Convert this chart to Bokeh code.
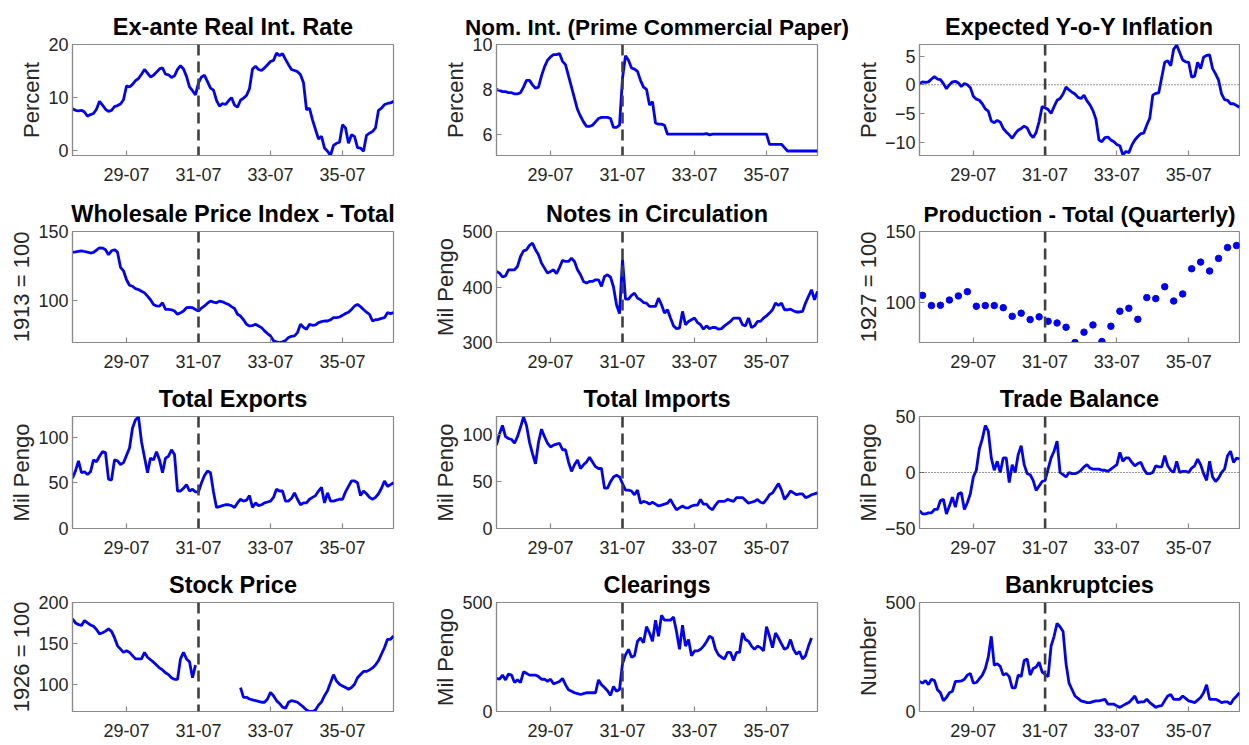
import numpy as np
import pandas as pd
from bokeh.plotting import figure
from bokeh.layouts import gridplot
from bokeh.models import Range1d, FixedTicker, Span
from bokeh.embed import file_html
from bokeh.resources import INLINE

nan = np.nan

# ---------------- data ----------------
months = pd.period_range("1928-01", "1936-12", freq="M")
tick_labels = ["29-07", "31-07", "33-07", "35-07"]
break_label = "31-07"

real_rate = [7.9, 7.6, 7.5, 7.6, 7.3, 6.5,
             6.8, 7.0, 7.8, 9.3, 8.6, 7.8,
             7.4, 7.6, 8.3, 8.5, 8.8, 9.6,
             12.2, 12.0, 12.5, 13.2, 13.6, 14.4,
             15.3, 14.6, 13.9, 14.2, 14.8, 15.4,
             15.6, 14.4, 14.3, 13.8, 14.1, 15.3,
             16.0, 15.4, 14.0, 12.0, 11.3, 10.5,
             12.8, 13.9, 14.2, 13.0, 11.8, 11.4,
             9.5, 8.4, 8.9, 8.7, 9.4, 10.0,
             8.6, 8.2, 9.5, 9.9, 10.4, 11.7,
             15.4, 15.9, 15.3, 15.1, 15.6, 16.2,
             16.8, 17.0, 18.4, 17.9, 18.3, 17.2,
             16.2, 15.3, 15.1, 14.9, 14.3, 12.8,
             7.7, 8.0, 5.8, 4.0, 2.2, 2.7,
             0.5, -0.1, -0.9, 1.0, 1.4, 1.6,
             4.9, 4.3, 1.4, 3.0, 2.7, 0.6,
             0.5, -0.1, 2.9, 3.3, 3.6, 4.3,
             7.6, 8.0, 8.7, 8.9, 9.0, 9.3]

nominal_rate = [8.0, 7.95, 7.9, 7.9, 7.85, 7.85,
                7.8, 7.8, 7.85, 8.1, 8.4, 8.4,
                8.2, 8.05, 8.1, 8.6, 9.0, 9.3,
                9.45, 9.55, 9.55, 9.6, 9.25, 9.1,
                8.6, 8.1, 7.6, 7.1, 6.8, 6.55,
                6.35, 6.35, 6.4, 6.55, 6.7, 6.75,
                6.75, 6.75, 6.7, 6.3, 6.3, 6.4,
                8.5, 9.5, 9.3, 8.95, 8.9, 8.8,
                8.4, 8.1, 8.0, 7.3, 7.45, 6.5,
                6.45, 6.45, 6.4, 6.0, 6.0, 6.0,
                6.0, 6.0, 6.0, 6.0, 6.0, 6.0,
                6.0, 6.0, 6.0, 6.0, 6.03, 5.97,
                6.0, 6.0, 6.0, 6.0, 6.0, 6.0,
                6.0, 6.0, 6.0, 6.0, 6.0, 6.0,
                6.0, 6.0, 6.0, 6.0, 6.0, 6.0,
                6.0, 5.55, 5.55, 5.55, 5.55, 5.55,
                5.4, 5.25, 5.25, 5.25, 5.25, 5.25,
                5.25, 5.25, 5.25, 5.25, 5.25, 5.25]

exp_inflation = [0.2, 0.5, 0.4, 0.5, 1.0, 1.4,
                 1.0, 0.9, 0.2, -0.7, 0.0, 0.5,
                 0.6, 0.3, -0.3, 0.2, 0.0, -0.5,
                 -2.0, -2.5, -2.7, -3.3, -4.2, -4.6,
                 -6.3, -6.6, -6.2, -6.5, -7.6, -8.2,
                 -8.7, -9.3, -8.5, -7.9, -7.6, -7.2,
                 -7.5, -8.6, -9.2, -8.3, -6.4, -3.8,
                 -4.0, -4.3, -5.0, -3.8, -2.7, -2.4,
                 -1.6, -0.4, -0.9, -1.3, -1.6, -2.2,
                 -2.4, -1.8, -2.8, -3.5, -4.5, -6.0,
                 -9.6, -9.9, -9.2, -9.1, -9.6, -9.9,
                 -10.4, -10.6, -12.2, -11.6, -11.8, -10.5,
                 -9.6, -9.0, -8.5, -8.4, -7.0, -5.8,
                 -1.8, -1.5, -1.4, 1.3, 3.9, 4.2,
                 3.3, 6.2, 6.9, 5.6, 4.3, 4.0,
                 3.9, 1.3, 1.5, 3.9, 2.8, 4.8,
                 5.1, 5.2, 2.8, 1.9, 0.8, -1.6,
                 -2.6, -2.7, -3.3, -3.3, -3.6, -3.9]

wholesale_prices = [134.9, 135.2, 135.6, 136.0, 135.5, 135.0,
                    134.4, 134.8, 136.5, 138.2, 138.0, 136.8,
                    133.2, 136.0, 136.8, 135.0, 124.0, 121.5,
                    115.0, 111.0, 110.3, 108.5, 107.9, 106.7,
                    105.5, 103.1, 100.5, 97.1, 96.0, 95.9,
                    98.3, 93.5, 93.5, 93.2, 92.3, 89.9,
                    91.0, 92.3, 94.7, 94.9, 94.7, 93.5,
                    92.3, 94.5, 96.0, 98.0, 99.5, 98.8,
                    98.3, 99.5, 99.0, 98.0, 97.1, 95.5,
                    94.2, 90.0, 88.7, 86.0, 82.7, 81.5,
                    81.8, 82.7, 81.5, 80.3, 77.9, 76.0,
                    74.3, 70.7, 70.0, 69.5, 70.0, 71.0,
                    73.1, 74.0, 74.3, 76.7, 82.7, 80.5,
                    79.1, 82.7, 82.0, 82.3, 83.9, 84.6,
                    85.1, 85.1, 86.0, 87.5, 87.5, 88.0,
                    89.2, 90.5, 91.5, 93.5, 95.9, 97.1,
                    95.5, 93.5, 91.5, 89.9, 85.1, 86.0,
                    86.3, 87.0, 87.5, 91.1, 90.5, 91.1]

notes_circulation = [428, 425, 418, 420, 431, 431,
                     431, 437, 455, 465, 467, 475,
                     479, 467, 458, 443, 434, 425,
                     428, 431, 424, 435, 448, 446,
                     446, 452, 446, 431, 422, 410,
                     407, 410, 410, 413, 413, 401,
                     419, 422, 418, 400, 368, 352,
                     450, 378, 378, 385, 389, 380,
                     377, 372, 371, 365, 365, 365,
                     380, 368, 353, 359, 344, 330,
                     325, 326, 356, 332, 338, 341,
                     344, 336, 332, 324, 330, 325,
                     327, 327, 324, 325, 330, 334,
                     338, 344, 344, 344, 332, 330,
                     344, 327, 330, 338, 338, 344,
                     348, 353, 359, 371, 367, 371,
                     359, 359, 360, 357, 355, 355,
                     356, 371, 383, 395, 377, 392]

production_quarterly = [104.9, 97.7, 97.9, 101.6, 104.5, 107.5,
                        97.2, 97.7, 97.7, 96.2, 90.1, 92.3,
                        87.8, 89.7, 86.6, 85.4, 82.4, 71.6,
                        78.9, 84.0, 72.3, 83.1, 93.7, 95.8,
                        88.0, 103.3, 102.6, 111.0, 100.9, 105.9,
                        123.7, 128.4, 122.1, 131.0, 138.7, 140.1]

exports = [55, 63, 74, 61, 62, 59,
           62, 75, 73, 79, 84, 83,
           54, 53, 75, 74, 70, 72,
           80, 88, 110, 119, 122, 95,
           78, 61, 77, 75, 84, 75,
           61, 77, 79, 86, 81, 41,
           41, 44, 48, 41, 43, 40,
           40, 50, 58, 63, 61, 40,
           23, 24, 25, 26, 26, 25,
           23, 28, 32, 30, 31, 36,
           23, 28, 25, 26, 28, 29,
           30, 34, 43, 41, 41, 30,
           30, 33, 39, 32, 26, 28,
           28, 32, 34, 36, 41, 45,
           28, 39, 30, 30, 31, 32,
           32, 40, 46, 52, 52, 50,
           36, 41, 38, 34, 32, 34,
           38, 44, 52, 46, 48, 50]

imports = [89, 101, 110, 98, 96, 95,
           91, 98, 108, 119, 110, 92,
           80, 69, 92, 106, 98, 91,
           87, 89, 90, 91, 84, 84,
           71, 61, 68, 73, 64, 68,
           71, 76, 71, 66, 64, 64,
           43, 43, 50, 55, 57, 55,
           48, 41, 41, 40, 36, 41,
           27, 29, 28, 26, 28, 26,
           24, 25, 26, 27, 31, 25,
           20, 22, 24, 22, 22, 24,
           25, 25, 31, 26, 26, 22,
           20, 25, 29, 29, 29, 31,
           30, 29, 33, 33, 33, 30,
           27, 28, 29, 31, 28, 27,
           31, 36, 38, 43, 48, 41,
           31, 35, 40, 38, 36, 37,
           37, 33, 34, 36, 37, 38]

trade_balance = [-34, -37, -37, -36, -36, -33,
                 -33, -25, -24, -37, -30, -22,
                 -31, -19, -18, -33, -27, -19,
                 -4, 2, 21, 30, 42, 37,
                 13, 2, 10, 0, 13, 13,
                 -9, 7, 0, 16, 24, 7,
                 -1, -2, -7, -16, -12, -8,
                 -7, 3, 13, 19, 28, 0,
                 -2, -4, 0, -1, -1, 0,
                 2, 5, 7, 4, 3, 3,
                 3, 2, 2, 1, 3, 5,
                 7, 18, 10, 13, 13, 9,
                 6, 8, 9, 3, -1, -1,
                 0, 6, 5, 5, 15, 6,
                 2, 0, 10, 0, 1, 1,
                 0, 4, 6, 12, 7, -1,
                 -7, 10, -4, -8, -5, 0,
                 3, 15, 19, 9, 13, 12]

stock_price = [180, 175, 173, 172, 178, 175,
               172.5, 171, 167, 161.6, 163, 165,
               167.8, 164.7, 157, 147, 143, 139,
               141, 139, 135, 131, 131, 131,
               139, 133, 130, 127, 123.5, 120,
               117.6, 114, 111.8, 108, 106, 106,
               131, 139, 131, 127.5, 108, 123.5,
               nan, nan, nan, nan, nan, nan,
               nan, nan, nan, nan, nan, nan,
               nan, nan, 96, 84, 84, 82,
               81, 80, 79, 78, 78, 82,
               90, 86, 80, 76.5, 72, 70.6,
               78, 80, 79, 78, 75, 72,
               68.6, 66.7, 66.7, 68.6, 74.5, 78.4,
               86, 92, 102, 111.8, 104, 100,
               98, 96, 94, 96, 100, 108,
               112, 115.7, 115.7, 117.6, 120, 123.5,
               129, 137, 145, 155, 155, 159]

clearings = [152, 148, 167, 145, 172, 167,
             133, 145, 133, 182, 175, 167,
             167, 167, 160, 148, 148, 138,
             148, 127, 132, 138, 152, 123,
             100, 93, 86, 82, 78, 82,
             86, 86, 86, 86, 145, 123,
             110, 95, 74, 115, 93, 101,
             219, 260, 285, 249, 256, 322,
             337, 315, 389, 360, 322, 419,
             345, 441, 419, 419, 419, 433,
             367, 285, 396, 300, 330, 256,
             278, 278, 285, 300, 320, 345,
             337, 285, 260, 249, 241, 271,
             271, 234, 271, 271, 360, 330,
             322, 300, 285, 300, 293, 278,
             389, 345, 293, 360, 337, 310,
             285, 293, 330, 285, 263, 275,
             241, 256, 300, 337, nan, nan]

bankruptcies = [138, 130, 142, 123, 148, 142,
                100, 86, 49, 64, 86, 93,
                138, 138, 140, 148, 167, 175,
                130, 133, 150, 167, 197, 249,
                345, 212, 219, 207, 167, 175,
                160, 108, 108, 167, 160, 234,
                241, 167, 197, 204, 226, 182,
                170, 160, 300, 345, 404, 389,
                367, 219, 130, 101, 71, 60,
                49, 45, 41, 41, 45, 49,
                49, 52, 56, 34, 34, 34,
                25, 19, 27, 35, 41, 55,
                71, 41, 44, 44, 56, 41,
                30, 19, 25, 27, 50, 71,
                78, 56, 56, 56, 71, 60,
                49, 45, 41, 52, 64, 86,
                123, 56, 56, 56, 50, 41,
                44, 44, 34, 56, 70, 86]

# ---------------- positions from the calendar ----------------
month_x = np.arange(len(months))
quarter_x = month_x[1::3]          # middle month of each quarter


def month_pos(lbl):
    return months.get_loc(pd.Period("19" + lbl, "M"))


tick_pos = [month_pos(t) for t in tick_labels]
break_x = month_pos(break_label)

# ---------------- styling ----------------
FONT = "Liberation Sans"
BLUE = "#0000FF"
GREY = "#8a8a8a"
TXT = "#262626"
col_w = [428, 423, 389]
col_left = [72, 68, 68]
col_right = [35, 34, 1]
row_top = [44, 38, 37, 37]
row_frame = [111, 111, 112, 109]
row_bottom = [38, 37, 37, 33]


def panel(r, c, title, ylabel, yr, yticks, title_size="23.5px", zero_line=False):
    p = figure(width=col_w[c], height=row_top[r] + row_frame[r] + row_bottom[r],
               output_backend="svg", toolbar_location=None,
               x_range=Range1d(month_x[0], month_x[-1]),
               y_range=Range1d(*yr),
               min_border_left=col_left[c], min_border_right=col_right[c],
               min_border_top=row_top[r], min_border_bottom=row_bottom[r])
    p.title.text = title
    p.title.align = "center"
    p.title.text_font = FONT
    p.title.text_font_size = title_size
    p.title.text_font_style = "bold"
    p.title.text_color = "black"
    p.title.standoff = 9
    p.grid.visible = False
    p.outline_line_color = GREY
    p.outline_line_width = 1.2
    p.background_fill_color = "white"
    p.border_fill_color = "white"
    for ax in (p.xaxis[0], p.yaxis[0]):
        ax.axis_line_color = GREY
        ax.axis_line_width = 1.2
        ax.major_tick_line_color = GREY
        ax.major_tick_line_width = 1.2
        ax.major_tick_in = 5
        ax.major_tick_out = 0
        ax.minor_tick_line_color = None
        ax.major_label_text_font = FONT
        ax.major_label_text_font_size = "18px"
        ax.major_label_text_color = TXT
    p.xaxis.ticker = FixedTicker(ticks=tick_pos)
    p.xaxis.major_label_overrides = {int(k): v for k, v in zip(tick_pos, tick_labels)}
    p.xaxis.major_label_standoff = 12
    p.yaxis.ticker = FixedTicker(ticks=yticks)
    p.yaxis.major_label_standoff = 4
    p.yaxis.axis_label = ylabel
    p.yaxis.axis_label_text_font = FONT
    p.yaxis.axis_label_text_font_size = "22px"
    p.yaxis.axis_label_text_font_style = "normal"
    p.yaxis.axis_label_text_color = TXT
    p.yaxis.axis_label_standoff = 1
    if zero_line:
        p.add_layout(Span(location=0, dimension="width", line_color="#303030",
                          line_width=1, line_dash="1 2"))
    p.add_layout(Span(location=break_x, dimension="height", line_color="#404040",
                      line_width=2.6, line_dash="11 6"))
    return p


def add_line(p, values):
    p.line(month_x, np.array(values, dtype=float), line_width=2.8, color=BLUE)


p1 = panel(0, 0, "Ex-ante Real Int. Rate", "Percent", (-0.9, 20), [0, 10, 20])
add_line(p1, real_rate)
p2 = panel(0, 1, "Nom. Int. (Prime Commercial Paper)", "Percent", (5.05, 10), [6, 8, 10],
           title_size="22.5px")
add_line(p2, nominal_rate)
p3 = panel(0, 2, "Expected Y-o-Y Inflation", "Percent", (-12.3, 7.0), [-10, -5, 0, 5],
           zero_line=True)
add_line(p3, exp_inflation)

p4 = panel(1, 0, "Wholesale Price Index - Total", "1913 = 100", (69.5, 150), [100, 150])
add_line(p4, wholesale_prices)
p5 = panel(1, 1, "Notes in Circulation", "Mil Pengo", (300, 500), [300, 400, 500])
add_line(p5, notes_circulation)
p6 = panel(1, 2, "Production - Total (Quarterly)", "1927 = 100", (71.6, 150), [100, 150],
           title_size="22.5px")
p6.scatter(quarter_x, production_quarterly, size=6.5, color=BLUE)

p7 = panel(2, 0, "Total Exports", "Mil Pengo", (0, 122.5), [0, 50, 100])
add_line(p7, exports)
p8 = panel(2, 1, "Total Imports", "Mil Pengo", (0, 119.5), [0, 50, 100])
add_line(p8, imports)
p9 = panel(2, 2, "Trade Balance", "Mil Pengo", (-50, 50), [-50, 0, 50], zero_line=True)
add_line(p9, trade_balance)

p10 = panel(3, 0, "Stock Price", "1926 = 100", (66.7, 200), [100, 150, 200])
add_line(p10, stock_price)
p11 = panel(3, 1, "Clearings", "Mil Pengo", (0, 500), [0, 500])
add_line(p11, clearings)
p12 = panel(3, 2, "Bankruptcies", "Number", (0, 500), [0, 500])
add_line(p12, bankruptcies)

grid = gridplot([[p1, p2, p3], [p4, p5, p6], [p7, p8, p9], [p10, p11, p12]],
                toolbar_location=None)

with open("out.html", "w") as f:
    f.write(file_html(grid, INLINE, title="Hungary 1928-1936"))
